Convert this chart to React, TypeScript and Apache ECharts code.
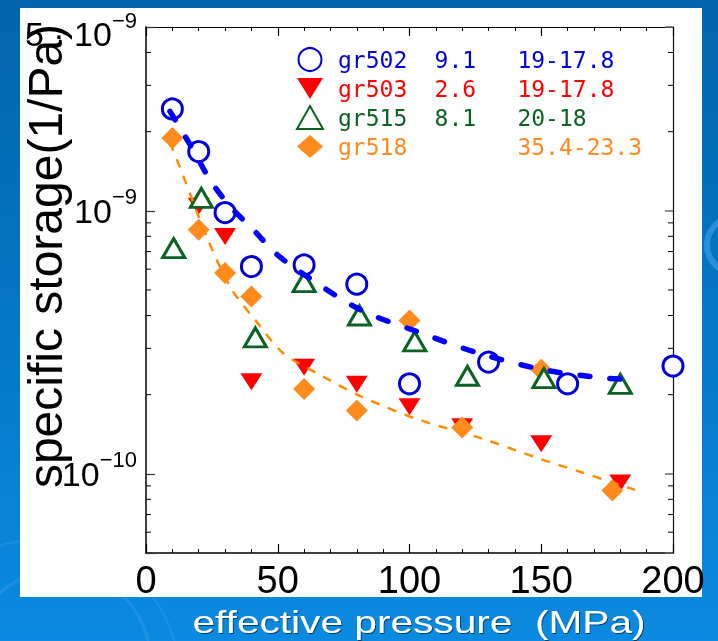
import React, { useEffect, useRef } from 'react';
import * as echarts from 'echarts';

// effective pressure (MPa) and specific storage (1/Pa) per sample
const gr502Pressure = [10, 20, 30, 40, 60, 80, 100, 130, 160, 200];
const gr502Storage = [2.44e-9, 1.68e-9, 9.85e-10, 6.14e-10, 6.23e-10, 5.26e-10, 2.2e-10, 2.66e-10, 2.2e-10, 2.57e-10];

const gr503Pressure = [20, 30, 40, 60, 80, 100, 120, 150, 180];
const gr503Storage = [1.04e-9, 7.98e-10, 2.24e-10, 2.54e-10, 2.19e-10, 1.8e-10, 1.51e-10, 1.3e-10, 9.22e-11];

const gr515Pressure = [10.5, 21, 41.5, 60, 81, 102, 122, 151, 180];
const gr515Storage = [7.22e-10, 1.12e-9, 3.3e-10, 5.36e-10, 4.0e-10, 3.19e-10, 2.36e-10, 2.31e-10, 2.2e-10];

const gr518Pressure = [10, 20, 30, 40, 60, 80, 100, 120, 150, 177];
const gr518Storage = [1.89e-9, 8.47e-10, 5.8e-10, 4.72e-10, 2.1e-10, 1.74e-10, 3.83e-10, 1.5e-10, 2.49e-10, 8.64e-11];

// fitted trend curves
const gr502FitPressure = [9.1, 17.8, 24.3, 31.9, 41.4, 49, 58.4, 81.2, 102.7, 126, 151.4, 174.8, 185.6];
const gr502FitStorage = [2.39e-9, 1.71e-9, 1.31e-9, 1.04e-9, 8.34e-10, 6.92e-10, 5.87e-10, 4.21e-10, 3.48e-10, 2.88e-10, 2.48e-10, 2.31e-10, 2.28e-10];

const gr518FitPressure = [9.1, 13.5, 23.5, 32.6, 41.4, 52, 66, 82, 104, 126.8, 149.5, 165.8, 185.6];
const gr518FitStorage = [1.82e-9, 1.41e-9, 7.76e-10, 5.01e-10, 3.85e-10, 2.88e-10, 2.38e-10, 1.96e-10, 1.6e-10, 1.37e-10, 1.14e-10, 1.01e-10, 8.69e-11];

// axis ticks
const pressureTicks = [0, 50, 100, 150, 200];
const storageMinorTicks = [6e-11, 7e-11, 8e-11, 9e-11, 2e-10, 3e-10, 4e-10, 5e-10, 6e-10, 7e-10, 8e-10, 9e-10, 2e-9, 3e-9, 4e-9];

// legend rows: sample, porosity, range
const legendNames = ['gr502', 'gr503', 'gr515', 'gr518'];
const legendMid = ['9.1', '2.6', '8.1', ''];
const legendRange = ['19-17.8', '19-17.8', '20-18', '35.4-23.3'];

const BLUE = '#0000d8';
const RED = '#ff0000';
const GREEN = '#0a6320';
const ORANGE = '#ff8a1e';
const legendColors = [BLUE, RED, GREEN, ORANGE];

const NARROW = '"Liberation Sans Narrow", "Arial Narrow", "Liberation Sans", sans-serif';
const MONO = '"DejaVu Sans Mono", "Liberation Mono", monospace';
const SANS = '"Liberation Sans", Arial, sans-serif';

const pairs = (xs: number[], ys: number[]) => xs.map((x, i) => [x, ys[i]]);

export default function App() {
  const ref = useRef<HTMLDivElement>(null);

  useEffect(() => {
    if (!ref.current) return;
    const chart = echarts.init(ref.current, undefined, { renderer: 'svg' });

    // decade labels as 10^n; the top end of the axis reads 5·10^-9
    const yLabel = (val: number) => {
      const l = Math.log10(val);
      const r = Math.round(l);
      if (Math.abs(l - r) < 1e-6) return `{b|10}{s|\u2212${-r}}`;
      if (val > 4.5e-9) return `{e| }\n{b|5 \u00b7 10}{s|\u22129}`;
      return '';
    };

    const axisCommon = {
      splitLine: { show: false },
      minorSplitLine: { show: false },
    };

    const legendToken = { fontFamily: MONO, fontSize: 23, lineHeight: 24 };

    const option: any = {
      animation: false,
      graphic: [
        {
          type: 'rect', z: -20, silent: true,
          shape: { x: 0, y: 0, width: 718, height: 641 },
          style: {
            fill: new echarts.graphic.LinearGradient(0, 0, 0, 1, [
              { offset: 0, color: '#0064ab' },
              { offset: 1, color: '#0a8ae0' },
            ]),
          },
        },
        { type: 'arc', z: -19, silent: true, shape: { cx: 735, cy: 245, r: 28, startAngle: 0, endAngle: Math.PI * 2 }, style: { stroke: 'rgba(90,175,255,0.45)', lineWidth: 6, fill: 'none' } },
        { type: 'arc', z: -19, silent: true, shape: { cx: 60, cy: 660, r: 90, startAngle: 0, endAngle: Math.PI * 2 }, style: { stroke: 'rgba(120,190,255,0.18)', lineWidth: 3, fill: 'none' } },
        { type: 'arc', z: -19, silent: true, shape: { cx: 40, cy: 680, r: 140, startAngle: 0, endAngle: Math.PI * 2 }, style: { stroke: 'rgba(120,190,255,0.14)', lineWidth: 3, fill: 'none' } },
        {
          type: 'rect', z: -18, silent: true,
          shape: { x: 20, y: 8, width: 682, height: 589 },
          style: { fill: '#ffffff' },
        },
        {
          type: 'text', z: 100, silent: true,
          x: 45, y: 256, rotation: Math.PI / 2,
          style: {
            text: 'specific storage(1/Pa)',
            fontSize: 48, fontFamily: SANS, fill: '#000',
            align: 'center', verticalAlign: 'middle',
            textAlign: 'center', textVerticalAlign: 'middle',
          },
        },
        {
          type: 'text', z: 100, silent: true,
          x: 419, y: 622, scaleX: 1.27,
          style: {
            text: 'effective pressure  (MPa)',
            fontSize: 32, fontFamily: SANS, fill: '#ffffff',
            align: 'center', verticalAlign: 'middle',
            textAlign: 'center', textVerticalAlign: 'middle',
            textShadowColor: 'rgba(0,0,0,0.55)', textShadowBlur: 1, textShadowOffsetX: 1, textShadowOffsetY: 1,
          },
        },
      ],
      grid: { left: 146, top: 27, right: 45, bottom: 88, containLabel: false },
      legend: {
        orient: 'vertical',
        left: 296, top: 47, padding: 0,
        itemWidth: 26, itemHeight: 23, itemGap: 4.5,
        selectedMode: false,
        data: legendNames.map((n, i) => ({ name: n, textStyle: { color: legendColors[i] } })),
        formatter: (name: string) => {
          const i = legendNames.indexOf(name);
          return `{p| }{a|${name}}{b|${legendMid[i] || ' '}}{s| }{c|${legendRange[i]}}`;
        },
        textStyle: {
          ...legendToken,
          rich: {
            p: { ...legendToken, width: 10 },
            a: { ...legendToken, width: 96.6 },
            b: { ...legendToken, width: 55.2 },
            s: { ...legendToken, width: 27.6 },
            c: { ...legendToken },
          },
        },
      },
      xAxis: [
        {
          type: 'value', min: 0, max: 200, interval: 50, position: 'bottom',
          axisLine: { show: true, onZero: false, lineStyle: { color: '#000', width: 1.5 } },
          axisTick: { show: true, inside: true, length: 9, lineStyle: { color: '#000', width: 1.2 } },
          minorTick: { show: true, splitNumber: 5, length: 4, lineStyle: { color: '#000', width: 1 } },
          axisLabel: {
            margin: 8, fontSize: 38, fontFamily: NARROW, color: '#000',
            showMinLabel: true, showMaxLabel: true,
            formatter: (v: number) => (pressureTicks.includes(v) ? String(v) : ''),
          },
          ...axisCommon,
        },
        {
          type: 'value', min: 0, max: 200, interval: 50, position: 'top',
          axisLine: { show: true, onZero: false, lineStyle: { color: '#000', width: 1.2 } },
          axisTick: { show: true, inside: true, length: 9, lineStyle: { color: '#000', width: 1.2 } },
          minorTick: { show: true, splitNumber: 5, length: 4, lineStyle: { color: '#000', width: 1 } },
          axisLabel: { show: false },
          ...axisCommon,
        },
      ],
      yAxis: [
        {
          type: 'log', logBase: 10, min: 5e-11, max: 5e-9, position: 'left',
          axisLine: { show: true, onZero: false, lineStyle: { color: '#000', width: 1.5 } },
          axisTick: { show: true, inside: true, length: 9, lineStyle: { color: '#333', width: 1.2 } },
          axisLabel: {
            margin: 9, color: '#000', fontFamily: NARROW,
            showMinLabel: true, showMaxLabel: true,
            formatter: yLabel,
            rich: {
              b: { fontSize: 34, fontFamily: NARROW, lineHeight: 50 },
              s: { fontSize: 22, fontFamily: NARROW, lineHeight: 12, verticalAlign: 'top' },
              e: { fontSize: 2, lineHeight: 14 },
            },
          },
          ...axisCommon,
        },
        {
          type: 'log', logBase: 10, min: 5e-11, max: 5e-9, position: 'right',
          axisLine: { show: true, onZero: false, lineStyle: { color: '#111', width: 1.2 } },
          axisTick: { show: true, inside: true, length: 8, lineStyle: { color: '#666', width: 1.5 } },
          axisLabel: { show: false },
          ...axisCommon,
        },
      ],
      series: [
        {
          name: 'gr503', type: 'scatter', xAxisIndex: 0, yAxisIndex: 0,
          symbol: 'path://M0,0 L10,0 L5,8 Z', symbolSize: [22, 17],
          itemStyle: { color: RED, opacity: 1 },
          data: pairs(gr503Pressure, gr503Storage),
        },
        {
          name: 'gr518', type: 'scatter', xAxisIndex: 0, yAxisIndex: 0,
          symbol: 'diamond', symbolSize: [22, 22],
          itemStyle: { color: ORANGE, opacity: 1 },
          data: pairs(gr518Pressure, gr518Storage),
        },
        {
          name: 'gr515', type: 'scatter', xAxisIndex: 0, yAxisIndex: 0,
          symbol: 'triangle', symbolSize: [22, 19],
          itemStyle: { color: '#ffffff', borderColor: GREEN, borderWidth: 3, opacity: 1 },
          data: pairs(gr515Pressure, gr515Storage),
        },
        {
          name: 'gr502', type: 'scatter', xAxisIndex: 0, yAxisIndex: 0,
          symbol: 'circle', symbolSize: 20,
          itemStyle: { color: '#ffffff', borderColor: BLUE, borderWidth: 3, opacity: 1 },
          data: pairs(gr502Pressure, gr502Storage),
        },
        {
          name: 'gr502 trend', type: 'line', xAxisIndex: 0, yAxisIndex: 0,
          showSymbol: false, symbol: 'none', smooth: 0.3, silent: true,
          lineStyle: { color: '#0000ff', width: 5.5, type: [10, 20], cap: 'round' },
          data: pairs(gr502FitPressure, gr502FitStorage),
        },
        {
          name: 'gr518 trend', type: 'line', xAxisIndex: 0, yAxisIndex: 0,
          showSymbol: false, symbol: 'none', smooth: 0.3, silent: true,
          lineStyle: { color: '#ff8c00', width: 2.5, type: [9, 9] },
          data: pairs(gr518FitPressure, gr518FitStorage),
        },
        {
          name: 'minor ticks', type: 'custom', xAxisIndex: 0, yAxisIndex: 0,
          silent: true, clip: false, z: 5,
          encode: { x: 0, y: 1 },
          data: storageMinorTicks.map((v) => [0, v]),
          renderItem: (params: any, api: any) => {
            const y = api.coord([0, api.value(1)])[1];
            const cs = params.coordSys;
            return {
              type: 'group',
              children: [
                { type: 'line', shape: { x1: cs.x, y1: y, x2: cs.x + 5, y2: y }, style: { stroke: '#000', lineWidth: 1 } },
                { type: 'line', shape: { x1: cs.x + cs.width - 5, y1: y, x2: cs.x + cs.width, y2: y }, style: { stroke: '#000', lineWidth: 1 } },
              ],
            };
          },
        },
      ],
    };

    chart.setOption(option);
    return () => chart.dispose();
  }, []);

  return (
    <div
      ref={ref}
      style={{ position: 'fixed', left: 0, top: 0, width: 718, height: 641 }}
    />
  );
}
